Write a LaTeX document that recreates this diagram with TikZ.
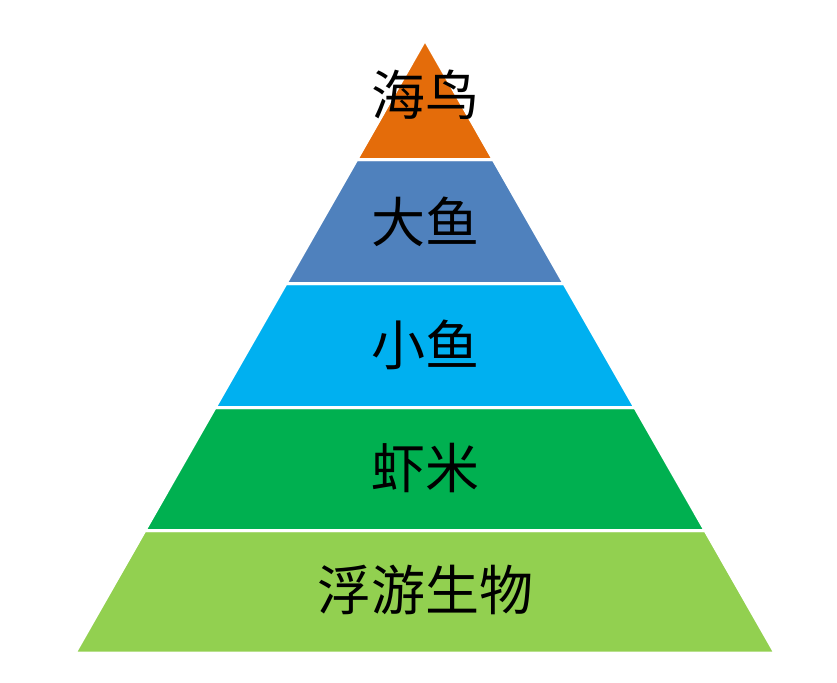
\documentclass[tikz,border=0pt]{standalone}
\usepackage{fontspec}
\newfontfamily\cjk{Noto Sans CJK SC}
\begin{document}
\begin{tikzpicture}[x=1pt,y=-1pt,
  layer/.style={draw=white,line width=3pt,line join=miter},
  lbl/.style={font=\cjk\fontsize{54}{60}\selectfont,text=black,inner sep=0pt}]
\useasboundingbox (0,0) rectangle (837,682);
\definecolor{c1}{HTML}{E46C0A}
\definecolor{c2}{HTML}{4F81BD}
\definecolor{c3}{HTML}{00B0F0}
\definecolor{c4}{HTML}{00B050}
\definecolor{c5}{HTML}{92D050}
\fill[c5,layer] (144.9,530.5) -- (705.1,530.5) -- (775,653) -- (75,653) -- cycle;
\fill[c4,layer] (215.1,407.5) -- (634.9,407.5) -- (705.1,530.5) -- (144.9,530.5) -- cycle;
\fill[c3,layer] (286,283.5) -- (564,283.5) -- (634.9,407.5) -- (215.1,407.5) -- cycle;
\fill[c2,layer] (356.8,159.5) -- (493.2,159.5) -- (564,283.5) -- (286,283.5) -- cycle;
\fill[c1,layer] (425,40) -- (493.2,159.5) -- (356.8,159.5) -- cycle;
\node[lbl] (t1) at (425,95) {海鸟};
\node[lbl] (t2) at (425,222) {大鱼};
\node[lbl] (t3) at (425,345) {小鱼};
\node[lbl] (t4) at (425,468) {虾米};
\node[lbl] (t5) at (425,590) {浮游生物};
\end{tikzpicture}
\end{document}
